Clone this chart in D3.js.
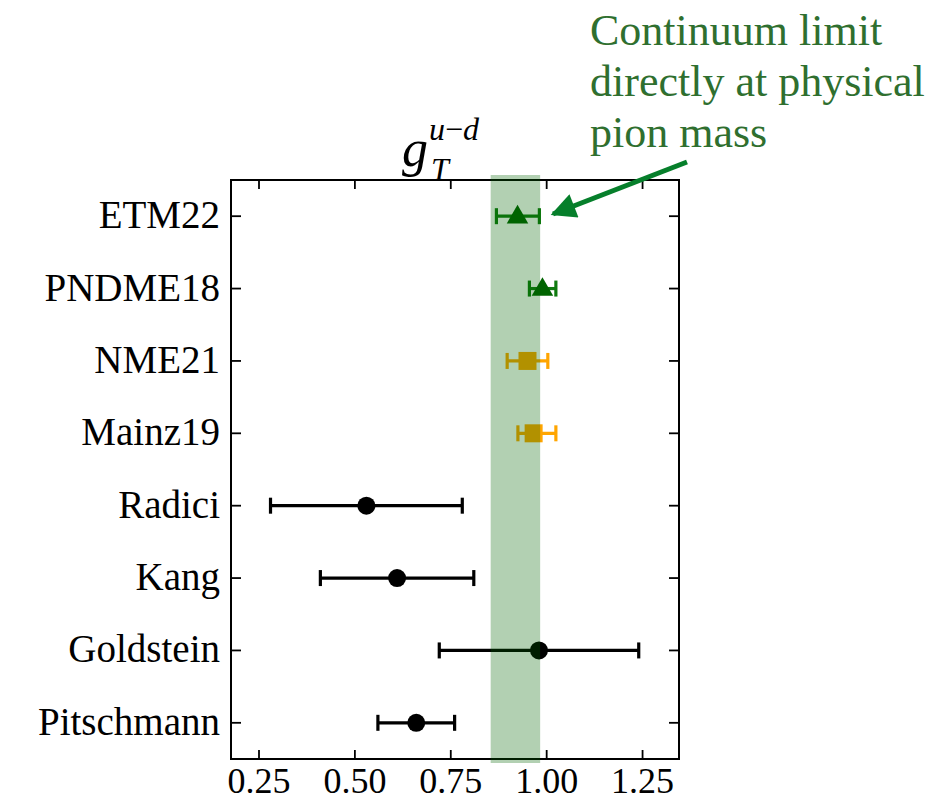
<!DOCTYPE html>
<html>
<head>
<meta charset="utf-8">
<script src="https://cdn.jsdelivr.net/npm/d3@7"></script>
</head>
<body style="margin:0">
<script>
// data
const labels = ['ETM22', 'PNDME18', 'NME21', 'Mainz19', 'Radici', 'Kang', 'Goldstein', 'Pitschmann'];
const values = [0.924, 0.989, 0.950, 0.966, 0.530, 0.610, 0.980, 0.660];
const errLow = [0.055, 0.034, 0.053, 0.041, 0.250, 0.200, 0.260, 0.100];
const errHigh = [0.057, 0.035, 0.053, 0.058, 0.250, 0.200, 0.260, 0.100];
const kinds = ['cont', 'cont', 'lat', 'lat', 'pheno', 'pheno', 'pheno', 'pheno'];
const band = [0.854, 0.983];
const xTicks = [0.25, 0.5, 0.75, 1.0, 1.25];
const annotation = ['Continuum limit', 'directly at physical', 'pion mass'];

const width = 949, height = 800;
const margin = { top: 180, right: 270, bottom: 41, left: 231 };
const serif = 'Liberation Serif';

const styles = {
  cont: { marker: '#006400', bar: '#0f7a0f' },
  lat: { marker: '#ffa500', bar: '#ffa500' },
  pheno: { marker: '#000', bar: '#000' }
};

const svg = d3.select('body')
  .append('svg')
  .attr('width', width)
  .attr('height', height)
  .attr('font-family', serif);

const x = d3.scaleLinear()
  .domain([0.177, 1.345])
  .range([margin.left, width - margin.right]);

const y = d3.scaleLinear()
  .domain([-0.5, labels.length - 0.5])
  .range([margin.top, height - margin.bottom]);

const [x0, x1] = x.range();
const [y0, y1] = y.range();

const pts = labels.map((name, i) => ({
  name, i, v: values[i], lo: values[i] - errLow[i], hi: values[i] + errHigh[i], kind: kinds[i]
}));

// error bars
const g = svg.append('g');
const capH = 8;

g.selectAll('line.err')
  .data(pts)
  .join('line')
  .attr('class', 'err')
  .attr('x1', d => x(d.lo))
  .attr('x2', d => x(d.hi))
  .attr('y1', d => y(d.i))
  .attr('y2', d => y(d.i))
  .attr('stroke', d => styles[d.kind].bar)
  .attr('stroke-width', 3.2);

['lo', 'hi'].forEach(side => {
  g.selectAll(`line.cap-${side}`)
    .data(pts)
    .join('line')
    .attr('class', `cap-${side}`)
    .attr('x1', d => x(d[side]))
    .attr('x2', d => x(d[side]))
    .attr('y1', d => y(d.i) - capH)
    .attr('y2', d => y(d.i) + capH)
    .attr('stroke', d => styles[d.kind].bar)
    .attr('stroke-width', 3.2);
});

// markers
const symbolFor = { cont: d3.symbolTriangle, lat: d3.symbolSquare, pheno: d3.symbolCircle };
const sizeFor = { cont: 200, lat: 324, pheno: 254 };

g.selectAll('path.mk')
  .data(pts)
  .join('path')
  .attr('class', 'mk')
  .attr('transform', d => `translate(${x(d.v)},${y(d.i) + (d.kind === 'cont' ? 1 : 0)})`)
  .attr('d', d => d3.symbol().type(symbolFor[d.kind]).size(sizeFor[d.kind])())
  .attr('fill', d => styles[d.kind].marker);

// frame and ticks (inward, all four sides)
const axes = svg.append('g').attr('stroke', '#000');
axes.append('rect')
  .attr('x', x0).attr('y', y0)
  .attr('width', x1 - x0).attr('height', y1 - y0)
  .attr('fill', 'none')
  .attr('stroke-width', 2);

const tickLen = 9;
xTicks.forEach(t => {
  axes.append('line').attr('x1', x(t)).attr('x2', x(t)).attr('y1', y1).attr('y2', y1 - tickLen).attr('stroke-width', 1.8);
  axes.append('line').attr('x1', x(t)).attr('x2', x(t)).attr('y1', y0).attr('y2', y0 + tickLen).attr('stroke-width', 1.8);
});
labels.forEach((l, i) => {
  axes.append('line').attr('x1', x0).attr('x2', x0 + tickLen + 1).attr('y1', y(i)).attr('y2', y(i)).attr('stroke-width', 1.8);
  axes.append('line').attr('x1', x1).attr('x2', x1 - tickLen - 1).attr('y1', y(i)).attr('y2', y(i)).attr('stroke-width', 1.8);
});

svg.selectAll('text.xt')
  .data(xTicks)
  .join('text')
  .attr('class', 'xt')
  .attr('x', d => x(d))
  .attr('y', y1 + 34)
  .attr('text-anchor', 'middle')
  .attr('font-size', 36)
  .text(d => d3.format('.2f')(d));

svg.selectAll('text.yl')
  .data(labels)
  .join('text')
  .attr('class', 'yl')
  .attr('x', x0 - 11)
  .attr('y', (d, i) => y(i) + 12)
  .attr('text-anchor', 'end')
  .attr('font-size', 39)
  .text(d => d);

// shaded band over the points
svg.append('rect')
  .attr('x', x(band[0]))
  .attr('width', x(band[1]) - x(band[0]))
  .attr('y', y0 - 5)
  .attr('height', y1 - y0 + 9)
  .attr('fill', '#006400')
  .attr('fill-opacity', 0.3);

// title g_T^{u-d}, pieces placed by hand
svg.append('text')
  .attr('x', 402).attr('y', 166)
  .attr('font-size', 52).attr('font-style', 'italic')
  .text('g');
svg.append('text')
  .attr('x', 431).attr('y', 180)
  .attr('font-size', 32).attr('font-style', 'italic')
  .text('T');
const sup = svg.append('text')
  .attr('x', 429).attr('y', 140)
  .attr('font-size', 32).attr('font-style', 'italic');
sup.append('tspan').text('u');
sup.append('tspan').attr('font-style', 'normal').text('\u2212');
sup.append('tspan').text('d');

// annotation
svg.selectAll('text.ann')
  .data(annotation)
  .join('text')
  .attr('class', 'ann')
  .attr('x', 590)
  .attr('y', (d, i) => 45 + i * 51)
  .attr('font-size', 44)
  .attr('fill', '#2f6f2f')
  .text(d => d);

svg.append('defs').append('marker')
  .attr('id', 'head')
  .attr('viewBox', '0 0 10 10')
  .attr('refX', 9).attr('refY', 5)
  .attr('markerWidth', 6).attr('markerHeight', 5)
  .attr('markerUnits', 'strokeWidth')
  .attr('orient', 'auto')
  .append('path')
  .attr('d', 'M0,0 L10,5 L0,10 Z')
  .attr('fill', '#067f2b');

svg.append('line')
  .attr('x1', 687).attr('y1', 162)
  .attr('x2', 553).attr('y2', 214)
  .attr('stroke', '#067f2b')
  .attr('stroke-width', 5)
  .attr('marker-end', 'url(#head)');
</script>
</body>
</html>
